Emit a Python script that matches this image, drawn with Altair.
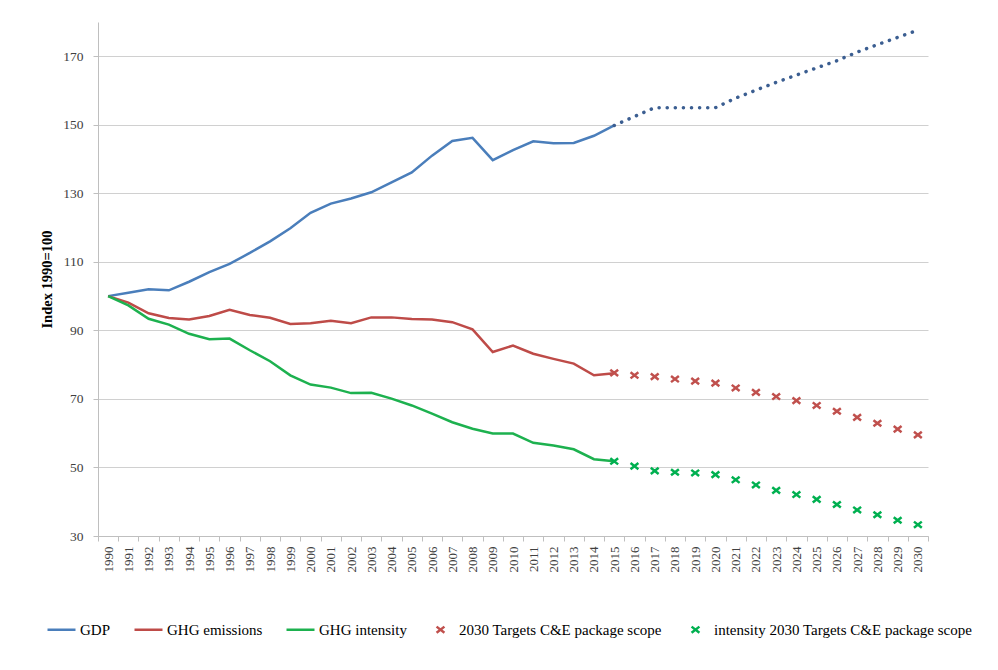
import altair as alt
import pandas as pd

YEARS = list(range(1990, 2031))
HIST_YEARS = list(range(1990, 2016))
PROJ_YEARS = list(range(2015, 2031))

GDP_HIST = [100, 101, 102, 101.7, 104.2, 107, 109.4, 112.6, 116, 119.8, 124.3, 127,
            128.5, 130.3, 133.2, 136.1, 141, 145.3, 146.2, 139.7, 142.6, 145.2,
            144.6, 144.7, 146.8, 149.8]
GDP_PROJ = [149.8, 152.4, 155, 155, 155, 155, 157.8, 160.1, 162.4, 164.5, 166.6,
            168.7, 171.2, 173.4, 175.5, 177.6]
GHG_HIST = [100, 98.1, 95.0, 93.6, 93.2, 94.2, 96.0, 94.5, 93.7, 91.9, 92.1, 92.8,
            92.1, 93.8, 93.8, 93.3, 93.2, 92.4, 90.3, 83.7, 85.6, 83.2, 81.7, 80.3,
            76.9, 77.5]
GHG_TARGET = [77.6, 76.9, 76.5, 75.8, 75.2, 74.6, 73.2, 71.9, 70.7, 69.5, 68.1,
              66.4, 64.6, 62.9, 61.2, 59.5]
INT_HIST = [100, 97.3, 93.4, 91.7, 89.0, 87.4, 87.6, 84.2, 81.0, 76.9, 74.2, 73.3,
            71.7, 71.8, 70.1, 68.1, 65.7, 63.2, 61.3, 59.9, 59.9, 57.2, 56.4, 55.3,
            52.4, 51.8]
INT_TARGET = [51.8, 50.4, 49.0, 48.6, 48.4, 47.9, 46.4, 44.9, 43.3, 42.1, 40.7,
              39.2, 37.6, 36.2, 34.6, 33.3]

SERIES = ["GDP", "GHG emissions", "GHG intensity",
          "2030 Targets C&E package scope",
          "intensity 2030 Targets C&E package scope"]
COLORS = ["#4A7EBB", "#BE4B48", "#1DB14F", "#C0504D", "#00B050"]
LINE_PATH = "M-1,0L1,0"
X_PATH = "M-0.28,-0.22L0.28,0.22M-0.28,0.22L0.28,-0.22"
SHAPES = [LINE_PATH, LINE_PATH, LINE_PATH, X_PATH, X_PATH]
Y_TICKS = [30, 50, 70, 90, 110, 130, 150, 170]

hist = pd.concat([
    pd.DataFrame({"year": HIST_YEARS, "value": GDP_HIST, "series": SERIES[0]}),
    pd.DataFrame({"year": HIST_YEARS, "value": GHG_HIST, "series": SERIES[1]}),
    pd.DataFrame({"year": HIST_YEARS, "value": INT_HIST, "series": SERIES[2]}),
])
proj = pd.DataFrame({"year": PROJ_YEARS, "value": GDP_PROJ})
targets = pd.concat([
    pd.DataFrame({"year": PROJ_YEARS, "value": GHG_TARGET, "series": SERIES[3]}),
    pd.DataFrame({"year": PROJ_YEARS, "value": INT_TARGET, "series": SERIES[4]}),
])

FONT = "Liberation Serif"

x_enc = alt.X(
    "year:O",
    scale=alt.Scale(type="band", domain=YEARS, paddingInner=0, paddingOuter=0),
    axis=alt.Axis(
        title=None, labelAngle=-90, labelFont=FONT, labelFontSize=13,
        labelColor="#404040", tickBand="extent", tickSize=5,
        tickColor="#BFBFBF", domainColor="#BFBFBF", labelPadding=5,
        grid=False,
    ),
)
y_enc = alt.Y(
    "value:Q",
    scale=alt.Scale(domain=[30, 180], nice=False, zero=False),
    axis=alt.Axis(
        title="Index 1990=100", titleFont=FONT, titleFontSize=14.5,
        titleFontWeight="bold", titleColor="#000000", titlePadding=8,
        values=Y_TICKS, labelFont=FONT, labelFontSize=13.5,
        labelColor="#404040", tickSize=5, tickColor="#BFBFBF",
        domainColor="#BFBFBF", labelPadding=10, gridColor="#D0D0D0",
    ),
)
color_enc = alt.Color(
    "series:N",
    scale=alt.Scale(domain=SERIES, range=COLORS),
    legend=alt.Legend(
        title=None, orient="none", direction="horizontal", columns=5,
        legendX=-52, legendY=592, labelFont=FONT, labelFontSize=15,
        labelColor="#000000", symbolSize=784, symbolStrokeWidth=2.5,
        labelOffset=3, columnPadding=18, labelLimit=0,
    ),
)

lines = alt.Chart(hist).mark_line(strokeWidth=2.5).encode(
    x=x_enc, y=y_enc, color=color_enc,
)
dotted = alt.Chart(proj).mark_line(
    color="#3B5E91", strokeWidth=3.5, strokeDash=[0.1, 8], strokeCap="round",
).encode(x=x_enc, y=y_enc)
markers = alt.Chart(targets).mark_point(
    filled=False, size=784, strokeWidth=2.5, opacity=1,
).encode(
    x=x_enc, y=y_enc, color=color_enc,
    shape=alt.Shape("series:N", scale=alt.Scale(domain=SERIES, range=SHAPES),
                    legend=alt.Legend(title=None)),
)

chart = alt.layer(lines, dotted, markers).properties(
    width=830, height=514,
    padding={"left": 31, "top": 14, "right": 5, "bottom": 5},
).configure_view(stroke=None).configure_legend(
    symbolSize=784, symbolStrokeWidth=2.5, labelLimit=0,
)

chart.save("out.html", embed_options={"renderer": "svg", "actions": False})
